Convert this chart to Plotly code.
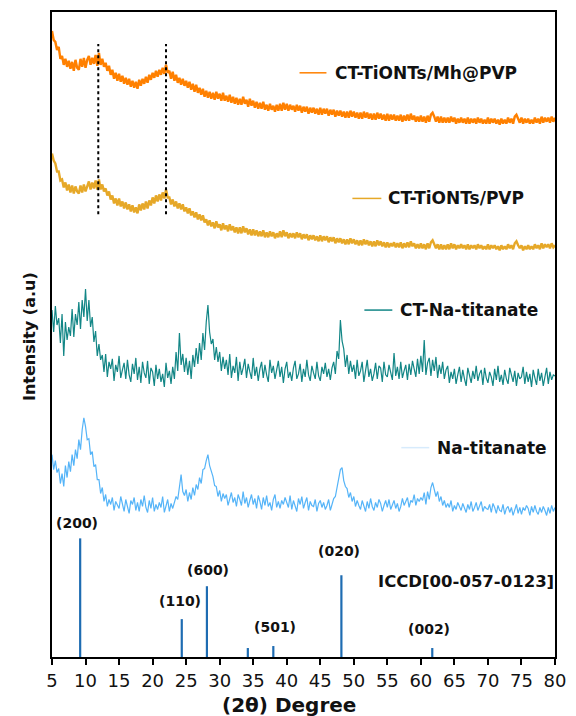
import plotly.graph_objects as go

# 2-theta grid (0.25 deg steps, 5..80)
two_theta = [5 + 0.25 * i for i in range(301)]

mh_pvp = [
628, 619, 617, 609, 612, 600, 603, 594, 600, 592, 598, 590, 597, 588, 599, 591,
589, 600, 592, 601, 591, 599, 603, 594, 601, 595, 604, 593, 606, 594, 600, 592,
596, 588, 593, 584, 589, 580, 586, 578, 585, 577, 583, 575, 581, 574, 580, 572,
578, 571, 577, 570, 579, 573, 580, 575, 582, 576, 584, 579, 586, 581, 588, 582,
589, 584, 591, 585, 594, 586, 588, 580, 587, 578, 584, 576, 581, 574, 580, 573,
578, 571, 577, 569, 575, 567, 574, 566, 571, 564, 570, 562, 568, 561, 567, 560,
566, 559, 567, 560, 565, 558, 566, 558, 563, 557, 564, 556, 562, 555, 561, 554,
560, 554, 562, 555, 559, 552, 560, 553, 558, 551, 557, 550, 556, 550, 557, 549,
554, 548, 555, 549, 553, 547, 554, 548, 555, 548, 556, 549, 555, 548, 554, 549,
553, 547, 554, 548, 553, 546, 552, 547, 552, 545, 551, 546, 551, 545, 550, 544,
551, 544, 550, 545, 550, 543, 549, 544, 549, 542, 548, 543, 548, 542, 547, 541,
547, 541, 548, 542, 547, 541, 546, 540, 546, 540, 547, 541, 546, 540, 545, 539,
545, 539, 546, 540, 545, 539, 544, 538, 545, 538, 544, 539, 544, 538, 543, 538,
544, 537, 543, 538, 544, 538, 545, 539, 543, 537, 542, 537, 543, 537, 542, 536,
543, 537, 544, 546, 542, 537, 542, 536, 542, 536, 541, 536, 541, 536, 542, 537,
541, 535, 540, 536, 541, 536, 540, 535, 541, 535, 540, 536, 540, 535, 541, 536,
540, 535, 539, 535, 541, 535, 540, 536, 540, 535, 539, 534, 540, 535, 539, 535,
541, 536, 540, 535, 542, 544, 540, 536, 541, 535, 540, 536, 540, 535, 539, 535,
541, 536, 540, 535, 542, 536, 541, 537, 541, 536, 542, 537, 541]

pvp = [
505, 498, 495, 487, 487, 478, 479, 471, 476, 468, 474, 466, 473, 465, 472, 467,
465, 473, 466, 474, 467, 473, 477, 469, 476, 470, 478, 469, 479, 469, 474, 467,
470, 463, 467, 459, 463, 455, 460, 453, 460, 452, 457, 450, 456, 449, 454, 447,
453, 446, 451, 445, 454, 448, 455, 449, 457, 450, 458, 453, 461, 455, 463, 457,
464, 458, 466, 460, 469, 461, 461, 454, 459, 452, 457, 450, 455, 449, 454, 447,
451, 445, 450, 443, 447, 441, 446, 439, 444, 438, 443, 436, 439, 433, 438, 432,
436, 430, 437, 431, 434, 428, 435, 429, 433, 427, 434, 428, 432, 426, 431, 425,
431, 425, 432, 426, 430, 424, 429, 423, 429, 423, 428, 422, 427, 422, 428, 421,
426, 421, 427, 422, 426, 420, 425, 421, 427, 421, 428, 422, 426, 420, 425, 421,
425, 420, 426, 421, 425, 419, 424, 420, 424, 418, 423, 419, 423, 418, 422, 417,
423, 417, 422, 418, 422, 416, 421, 417, 421, 415, 420, 416, 420, 415, 419, 414,
419, 414, 420, 415, 419, 414, 418, 413, 418, 413, 419, 414, 418, 413, 417, 412,
417, 412, 418, 413, 417, 412, 416, 411, 416, 411, 415, 412, 416, 411, 415, 411,
416, 410, 415, 411, 416, 411, 417, 412, 415, 410, 414, 410, 415, 410, 414, 409,
415, 410, 416, 418, 414, 410, 414, 409, 414, 409, 413, 409, 414, 409, 415, 410,
414, 409, 413, 410, 414, 410, 413, 409, 414, 409, 413, 410, 413, 409, 414, 410,
413, 409, 412, 409, 414, 409, 413, 410, 413, 409, 412, 408, 413, 409, 412, 409,
414, 410, 413, 409, 415, 417, 413, 410, 413, 408, 412, 409, 413, 409, 412, 409,
414, 410, 413, 409, 415, 410, 414, 411, 414, 410, 415, 411, 413]

ct_na = [
348, 326, 352, 333, 340, 315, 344, 302, 336, 318, 331, 322, 349, 321, 344, 333,
356, 329, 358, 341, 369, 337, 358, 331, 341, 316, 327, 302, 314, 298, 303, 286,
304, 281, 296, 289, 299, 277, 293, 286, 302, 280, 288, 295, 279, 298, 283, 276,
294, 284, 300, 278, 291, 275, 296, 285, 280, 297, 274, 290, 286, 272, 293, 279,
289, 276, 284, 271, 295, 280, 287, 274, 291, 279, 306, 287, 325, 293, 304, 286,
300, 283, 297, 279, 303, 291, 310, 294, 315, 298, 325, 308, 336, 353, 326, 314,
319, 298, 311, 296, 306, 287, 301, 289, 298, 283, 304, 280, 292, 285, 301, 277,
296, 283, 290, 299, 280, 294, 286, 279, 300, 282, 291, 277, 289, 296, 280, 293,
283, 276, 298, 285, 292, 279, 288, 297, 281, 291, 275, 289, 296, 280, 286, 277,
290, 297, 279, 284, 294, 276, 289, 281, 298, 283, 277, 292, 285, 279, 296, 282,
277, 291, 284, 295, 281, 289, 278, 290, 296, 284, 307, 299, 338, 317, 309, 291,
303, 284, 297, 286, 293, 279, 298, 282, 287, 296, 276, 290, 298, 281, 289, 277,
284, 295, 279, 292, 290, 276, 296, 283, 281, 293, 286, 278, 305, 282, 291, 279,
296, 280, 287, 293, 278, 294, 283, 297, 289, 281, 299, 284, 302, 286, 318, 283,
295, 300, 282, 298, 287, 301, 280, 293, 284, 296, 279, 288, 292, 275, 286, 279,
289, 274, 283, 291, 276, 288, 279, 272, 290, 281, 275, 287, 279, 292, 277, 284,
288, 273, 290, 280, 275, 286, 281, 272, 289, 278, 292, 276, 283, 273, 288, 279,
274, 290, 282, 276, 287, 272, 285, 279, 281, 291, 274, 286, 276, 284, 271, 288,
280, 273, 289, 277, 285, 272, 281, 290, 274, 286, 278, 283, 282]

na = [
203, 188, 197, 185, 189, 174, 184, 171, 192, 180, 196, 186, 203, 192, 208, 199,
218, 208, 228, 240, 231, 218, 219, 203, 206, 191, 193, 178, 178, 164, 170, 156,
163, 151, 158, 153, 160, 147, 156, 152, 149, 161, 152, 146, 158, 150, 144, 157,
153, 160, 147, 155, 146, 158, 151, 162, 150, 145, 157, 149, 160, 146, 153, 148,
155, 150, 161, 145, 152, 158, 146, 154, 149, 156, 161, 158, 174, 183, 166, 162,
168, 156, 165, 158, 170, 162, 173, 168, 180, 174, 188, 189, 197, 203, 192, 187,
181, 172, 171, 161, 167, 156, 164, 159, 163, 152, 158, 165, 155, 160, 151, 163,
158, 152, 166, 154, 160, 150, 157, 163, 153, 159, 149, 162, 156, 148, 160, 152,
162, 151, 155, 147, 158, 163, 150, 156, 149, 157, 153, 160, 155, 150, 162, 148,
157, 152, 146, 159, 153, 161, 149, 155, 160, 147, 156, 152, 151, 158, 146, 154,
157, 150, 155, 148, 152, 158, 147, 153, 159, 161, 169, 179, 188, 190, 177, 171,
169, 160, 165, 156, 161, 151, 157, 152, 148, 157, 152, 146, 156, 149, 159, 151,
147, 155, 150, 158, 154, 146, 152, 157, 150, 158, 148, 153, 157, 149, 154, 146,
151, 159, 152, 156, 160, 150, 157, 155, 163, 152, 159, 156, 160, 157, 165, 153,
166, 158, 170, 175, 167, 161, 166, 156, 161, 152, 157, 150, 154, 150, 157, 146,
152, 148, 155, 150, 147, 154, 149, 145, 153, 148, 156, 146, 150, 155, 147, 152,
156, 146, 151, 149, 148, 153, 145, 154, 150, 144, 152, 147, 146, 153, 143, 149,
151, 145, 150, 142, 148, 153, 144, 150, 143, 150, 147, 152, 149, 142, 151, 145,
152, 146, 143, 150, 145, 151, 147, 142, 150, 144, 152, 146, 150]

# ICCD reference sticks
ref_pos = [9.2, 24.35, 28.1, 34.2, 38.0, 48.15, 61.7]
ref_int = [119, 38, 71, 9, 11, 82, 9]
ref_hkl = ["(200)", "(110)", "(600)", "", "(501)", "(020)", "(002)"]
ref_label_pos = [8.7, 24.1, 28.3, 34.2, 38.2, 47.8, 61.2]
ref_label_int = [124, 46, 77, 0, 20, 96, 18]

# dotted guide lines
guide_pos = [11.9, 22.0]
guide_lo = 444
guide_hi = 615

series = [
    ("CT-TiONTs/Mh@PVP", mh_pvp, "rgb(255,128,0)", 2.4),
    ("CT-TiONTs/PVP", pvp, "rgb(230,168,40)", 2.4),
    ("CT-Na-titanate", ct_na, "rgb(18,134,134)", 1.2),
    ("Na-titanate", na, "rgb(85,180,248)", 1.2),
]

W, H = 576, 716
L, R, T, B = 52, 20, 10, 59
PW, PH = W - L - R, H - T - B

def px(x):
    return (x - L) / PW

def py(y):
    return (H - B - y) / PH

fig = go.Figure()
for name, vals, col, lw in series:
    fig.add_trace(go.Scatter(x=two_theta, y=vals, mode="lines", name=name,
                             line=dict(color=col, width=lw), showlegend=False))

sx, sy = [], []
for p, h in zip(ref_pos, ref_int):
    sx += [p, p, None]
    sy += [0, h, None]
fig.add_trace(go.Scatter(x=sx, y=sy, mode="lines", line=dict(color="rgb(30,108,178)", width=2.2),
                         showlegend=False))

gx, gy = [], []
for p in guide_pos:
    gx += [p, p, None]
    gy += [guide_lo, guide_hi, None]
fig.add_trace(go.Scatter(x=gx, y=gy, mode="lines", line=dict(color="black", width=2, dash="dot"),
                         showlegend=False))

bold = "DejaVu Sans"
ann = []
for lab, lx, ly in zip(ref_hkl, ref_label_pos, ref_label_int):
    if lab:
        ann.append(dict(x=lx, y=ly, xref="x", yref="y", text="<b>%s</b>" % lab, showarrow=False,
                        xanchor="center", yanchor="bottom", font=dict(family=bold, size=14, color="#111")))

ann.append(dict(x=px(377), y=py(581), xref="paper", yref="paper", text="<b>ICCD[00-057-0123]</b>",
                showarrow=False, xanchor="left", yanchor="middle",
                font=dict(family=bold, size=16.5, color="#111")))

legend_items = [
    (300, 327, 334, 71, "rgb(255,128,0)"),
    (353, 382, 387, 197, "rgb(230,168,40)"),
    (365, 393, 399, 309, "rgb(18,134,134)"),
    (402, 430, 436, 447, "rgb(215,235,252)"),
]
shapes = []
for (name, _, _, _), (x0, x1, tx, yy, col) in zip(series, legend_items):
    shapes.append(dict(type="line", xref="paper", yref="paper", x0=px(x0), x1=px(x1),
                       y0=py(yy), y1=py(yy), line=dict(color=col, width=1.5)))
    ann.append(dict(x=px(tx), y=py(yy), xref="paper", yref="paper", text="<b>%s</b>" % name,
                    showarrow=False, xanchor="left", yanchor="middle",
                    font=dict(family=bold, size=17, color="#111")))

ann.append(dict(x=px(289), y=py(705), xref="paper", yref="paper", text="<b>(2θ) Degree</b>",
                showarrow=False, xanchor="center", yanchor="middle",
                font=dict(family=bold, size=20, color="#111")))
ann.append(dict(x=px(30), y=py(336), xref="paper", yref="paper", text="<b>Intensity (a.u)</b>",
                showarrow=False, xanchor="center", yanchor="middle", textangle=-90,
                font=dict(family=bold, size=16, color="#111")))

fig.update_layout(
    width=W, height=H, margin=dict(l=L, r=R, t=T, b=B),
    plot_bgcolor="white", paper_bgcolor="white",
    annotations=ann, shapes=shapes,
    xaxis=dict(range=[5, 80], tickmode="array", tickvals=list(range(5, 81, 5)),
               ticks="outside", ticklen=6, tickwidth=1.5, tickcolor="black",
               showline=True, linecolor="black", linewidth=1.8, mirror=True,
               showgrid=False, zeroline=False,
               tickfont=dict(family="DejaVu Sans", size=18, color="#111")),
    yaxis=dict(range=[0, 647], showticklabels=False, ticks="",
               showline=True, linecolor="black", linewidth=1.8, mirror=True,
               showgrid=False, zeroline=False),
)

fig.write_html("out.html")
